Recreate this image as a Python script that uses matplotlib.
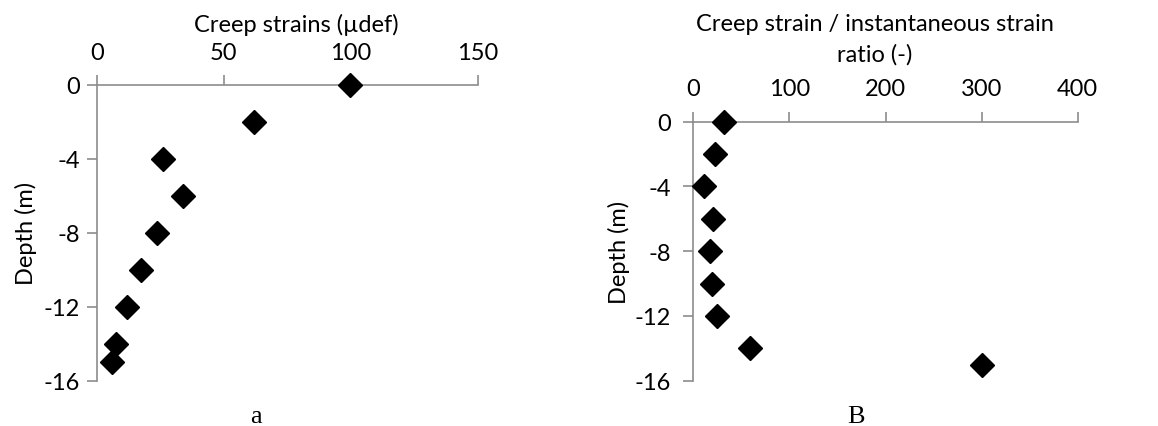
import matplotlib.pyplot as plt

# ── data ────────────────────────────────────────────────
depth_a  = [0, -2, -4, -6, -8, -10, -12, -14, -15]
creep_a  = [99.5, 62, 26.2, 33.9, 23.9, 17.6, 11.8, 7.7, 6.1]

depth_b  = [0, -2, -4, -6, -8, -10, -12, -14, -15]
ratio_b  = [32, 22.6, 11.4, 20, 17.3, 19.4, 25, 59, 300]

yticks   = [0, -4, -8, -12, -16]
xticks_a = [0, 50, 100, 150]
xticks_b = [0, 100, 200, 300, 400]
# ────────────────────────────────────────────────────────

plt.rcParams['font.family'] = ['Lato', 'DejaVu Sans']
plt.rcParams['axes.unicode_minus'] = False
GRAY = '#8c8c8c'
FS = 17

fig = plt.figure(figsize=(11.58, 4.27), dpi=100)
ax_a = fig.add_axes([0.0835, 0.106, 0.3293, 0.693])
ax_b = fig.add_axes([0.5987, 0.106, 0.3320, 0.6067])


def style(ax, xticks, xmax, ypad):
    ax.set_xlim(0, xmax)
    ax.set_ylim(-16, 0)
    ax.set_xticks(xticks)
    ax.set_yticks(yticks)
    ax.xaxis.tick_top()
    ax.xaxis.set_label_position('top')
    for s in ['right', 'bottom']:
        ax.spines[s].set_visible(False)
    for s in ['top', 'left']:
        ax.spines[s].set_color(GRAY)
        ax.spines[s].set_linewidth(1.2)
    ax.tick_params(length=7, width=1.2, color=GRAY, labelsize=FS)
    ax.tick_params(axis='x', pad=9)
    ax.tick_params(axis='y', pad=ypad)
    ax.set_ylabel('Depth (m)', fontsize=FS)


ax_a.plot(creep_a, depth_a, 'D', color='black', ms=12, clip_on=False, zorder=5)
style(ax_a, xticks_a, 150, 5)
ax_a.set_xlabel('Creep strains (µdef)', fontsize=FS)
ax_a.xaxis.set_label_coords(0.5245, 1.182)
ax_a.yaxis.set_label_coords(-0.157, 0.5)

ax_b.plot(ratio_b, depth_b, 'D', color='black', ms=12, clip_on=False, zorder=5)
style(ax_b, xticks_b, 400, 9)
ax_b.set_xlabel('Creep strain / instantaneous strain\nratio (-)', fontsize=FS,
                linespacing=1.55)
ax_b.xaxis.set_label_coords(0.4727, 1.234)
ax_b.yaxis.set_label_coords(-0.165, 0.5)

fig.text(0.2208, 0.01, 'a', family='Liberation Serif', fontsize=19, ha='center', va='baseline')
fig.text(0.739, 0.01, 'B', family='Liberation Serif', fontsize=19, ha='center', va='baseline')

fig.savefig('out.png', dpi=100)
